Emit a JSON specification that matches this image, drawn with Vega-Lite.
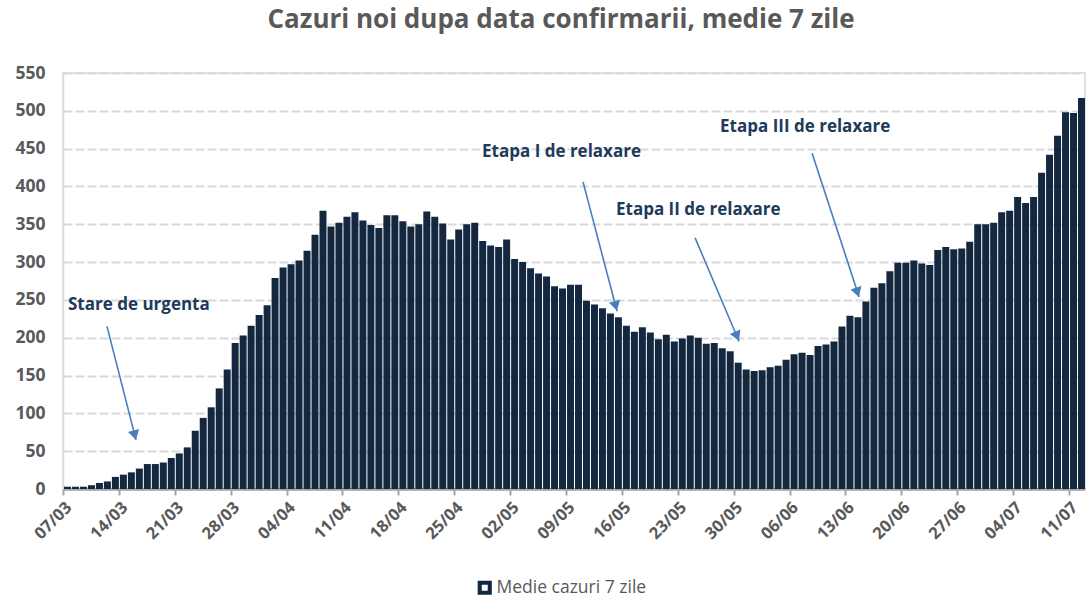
{
  "$schema": "https://vega.github.io/schema/vega-lite/v6.json",
  "width": 1022,
  "height": 416,
  "autosize": {"type": "none"},
  "padding": {"left": 63, "top": 73, "right": 4, "bottom": 110},
  "background": "white",
  "title": {"text": "Cazuri noi dupa data confirmarii, medie 7 zile", "font": "Open Sans", "fontSize": 26, "fontWeight": "bold", "color": "#595959", "anchor": "middle", "offset": 31, "dx": -13},
  "datasets": {
    "bars": [
      {"date": "2020-03-07", "value": 3}, {"date": "2020-03-08", "value": 3}, {"date": "2020-03-09", "value": 3}, {"date": "2020-03-10", "value": 5}, {"date": "2020-03-11", "value": 8},
      {"date": "2020-03-12", "value": 10}, {"date": "2020-03-13", "value": 16}, {"date": "2020-03-14", "value": 19}, {"date": "2020-03-15", "value": 22}, {"date": "2020-03-16", "value": 27},
      {"date": "2020-03-17", "value": 33}, {"date": "2020-03-18", "value": 33}, {"date": "2020-03-19", "value": 35}, {"date": "2020-03-20", "value": 41}, {"date": "2020-03-21", "value": 47},
      {"date": "2020-03-22", "value": 55}, {"date": "2020-03-23", "value": 77}, {"date": "2020-03-24", "value": 94}, {"date": "2020-03-25", "value": 108}, {"date": "2020-03-26", "value": 133},
      {"date": "2020-03-27", "value": 158}, {"date": "2020-03-28", "value": 193}, {"date": "2020-03-29", "value": 203}, {"date": "2020-03-30", "value": 216}, {"date": "2020-03-31", "value": 230},
      {"date": "2020-04-01", "value": 243}, {"date": "2020-04-02", "value": 279}, {"date": "2020-04-03", "value": 293}, {"date": "2020-04-04", "value": 297}, {"date": "2020-04-05", "value": 302},
      {"date": "2020-04-06", "value": 315}, {"date": "2020-04-07", "value": 336}, {"date": "2020-04-08", "value": 368}, {"date": "2020-04-09", "value": 347}, {"date": "2020-04-10", "value": 352},
      {"date": "2020-04-11", "value": 360}, {"date": "2020-04-12", "value": 366}, {"date": "2020-04-13", "value": 355}, {"date": "2020-04-14", "value": 349}, {"date": "2020-04-15", "value": 345},
      {"date": "2020-04-16", "value": 362}, {"date": "2020-04-17", "value": 362}, {"date": "2020-04-18", "value": 354}, {"date": "2020-04-19", "value": 347}, {"date": "2020-04-20", "value": 350},
      {"date": "2020-04-21", "value": 367}, {"date": "2020-04-22", "value": 360}, {"date": "2020-04-23", "value": 351}, {"date": "2020-04-24", "value": 330}, {"date": "2020-04-25", "value": 343},
      {"date": "2020-04-26", "value": 350}, {"date": "2020-04-27", "value": 352}, {"date": "2020-04-28", "value": 328}, {"date": "2020-04-29", "value": 322}, {"date": "2020-04-30", "value": 320},
      {"date": "2020-05-01", "value": 330}, {"date": "2020-05-02", "value": 304}, {"date": "2020-05-03", "value": 300}, {"date": "2020-05-04", "value": 292}, {"date": "2020-05-05", "value": 285},
      {"date": "2020-05-06", "value": 281}, {"date": "2020-05-07", "value": 268}, {"date": "2020-05-08", "value": 265}, {"date": "2020-05-09", "value": 270}, {"date": "2020-05-10", "value": 270},
      {"date": "2020-05-11", "value": 249}, {"date": "2020-05-12", "value": 244}, {"date": "2020-05-13", "value": 239}, {"date": "2020-05-14", "value": 232}, {"date": "2020-05-15", "value": 227},
      {"date": "2020-05-16", "value": 216}, {"date": "2020-05-17", "value": 208}, {"date": "2020-05-18", "value": 214}, {"date": "2020-05-19", "value": 207}, {"date": "2020-05-20", "value": 198},
      {"date": "2020-05-21", "value": 204}, {"date": "2020-05-22", "value": 195}, {"date": "2020-05-23", "value": 199}, {"date": "2020-05-24", "value": 203}, {"date": "2020-05-25", "value": 200},
      {"date": "2020-05-26", "value": 192}, {"date": "2020-05-27", "value": 193}, {"date": "2020-05-28", "value": 186}, {"date": "2020-05-29", "value": 182}, {"date": "2020-05-30", "value": 167},
      {"date": "2020-05-31", "value": 158},
      {"date": "2020-06-01", "value": 156}, {"date": "2020-06-02", "value": 157}, {"date": "2020-06-03", "value": 161}, {"date": "2020-06-04", "value": 163}, {"date": "2020-06-05", "value": 171},
      {"date": "2020-06-06", "value": 178}, {"date": "2020-06-07", "value": 180}, {"date": "2020-06-08", "value": 177}, {"date": "2020-06-09", "value": 189}, {"date": "2020-06-10", "value": 191},
      {"date": "2020-06-11", "value": 195}, {"date": "2020-06-12", "value": 215}, {"date": "2020-06-13", "value": 229}, {"date": "2020-06-14", "value": 227}, {"date": "2020-06-15", "value": 248},
      {"date": "2020-06-16", "value": 266}, {"date": "2020-06-17", "value": 272}, {"date": "2020-06-18", "value": 288}, {"date": "2020-06-19", "value": 299}, {"date": "2020-06-20", "value": 299},
      {"date": "2020-06-21", "value": 302}, {"date": "2020-06-22", "value": 298}, {"date": "2020-06-23", "value": 296}, {"date": "2020-06-24", "value": 316}, {"date": "2020-06-25", "value": 320},
      {"date": "2020-06-26", "value": 317}, {"date": "2020-06-27", "value": 318}, {"date": "2020-06-28", "value": 327}, {"date": "2020-06-29", "value": 350}, {"date": "2020-06-30", "value": 350},
      {"date": "2020-07-01", "value": 352}, {"date": "2020-07-02", "value": 366}, {"date": "2020-07-03", "value": 368}, {"date": "2020-07-04", "value": 386}, {"date": "2020-07-05", "value": 378},
      {"date": "2020-07-06", "value": 386}, {"date": "2020-07-07", "value": 418}, {"date": "2020-07-08", "value": 442}, {"date": "2020-07-09", "value": 467}, {"date": "2020-07-10", "value": 498},
      {"date": "2020-07-11", "value": 497}, {"date": "2020-07-12", "value": 517}
    ],
    "notes": [
      {"label": "Stare de urgenta", "date": "2020-03-07T15:00:00Z", "value": 243},
      {"label": "Etapa I de relaxare", "date": "2020-04-28T11:31:00Z", "value": 445},
      {"label": "Etapa II de relaxare", "date": "2020-05-15T06:14:00Z", "value": 369},
      {"label": "Etapa III de relaxare", "date": "2020-05-28T06:58:00Z", "value": 479}
    ],
    "arrows": [
      {"id": 1, "x1": "2020-03-12T12:14:00Z", "y1": 215, "x2": "2020-03-16T03:22:00Z", "y2": 65},
      {"id": 2, "x1": "2020-05-11T03:07:00Z", "y1": 406, "x2": "2020-05-15T09:22:00Z", "y2": 235},
      {"id": 3, "x1": "2020-05-25T04:05:00Z", "y1": 332, "x2": "2020-05-30T16:19:00Z", "y2": 195},
      {"id": 4, "x1": "2020-06-08T19:41:00Z", "y1": 444, "x2": "2020-06-14T17:02:00Z", "y2": 254}
    ],
    "heads": [
      {"id": 1, "date": "2020-03-15T23:46:00Z", "value": 71},
      {"id": 2, "date": "2020-05-15T05:31:00Z", "value": 242},
      {"id": 3, "date": "2020-05-30T10:05:00Z", "value": 202},
      {"id": 4, "date": "2020-06-14T12:00:00Z", "value": 260}
    ]
  },
  "layer": [
    {
      "data": {"name": "bars"},
      "mark": {"type": "bar", "timeUnitBandSize": 0.86},
      "encoding": {
        "x": {
          "field": "date", "type": "temporal", "timeUnit": "utcyearmonthdate",
          "scale": {"type": "utc", "nice": false, "domain": [{"year": 2020, "month": 3, "date": 7, "utc": true}, {"year": 2020, "month": 7, "date": 13, "utc": true}]},
          "axis": {
            "title": null, "grid": false, "labelAngle": -45, "labelOverlap": false,
            "values": [
              {"year": 2020, "month": 3, "date": 7, "utc": true}, {"year": 2020, "month": 3, "date": 14, "utc": true}, {"year": 2020, "month": 3, "date": 21, "utc": true}, {"year": 2020, "month": 3, "date": 28, "utc": true},
              {"year": 2020, "month": 4, "date": 4, "utc": true}, {"year": 2020, "month": 4, "date": 11, "utc": true}, {"year": 2020, "month": 4, "date": 18, "utc": true}, {"year": 2020, "month": 4, "date": 25, "utc": true},
              {"year": 2020, "month": 5, "date": 2, "utc": true}, {"year": 2020, "month": 5, "date": 9, "utc": true}, {"year": 2020, "month": 5, "date": 16, "utc": true}, {"year": 2020, "month": 5, "date": 23, "utc": true},
              {"year": 2020, "month": 5, "date": 30, "utc": true}, {"year": 2020, "month": 6, "date": 6, "utc": true}, {"year": 2020, "month": 6, "date": 13, "utc": true}, {"year": 2020, "month": 6, "date": 20, "utc": true},
              {"year": 2020, "month": 6, "date": 27, "utc": true}, {"year": 2020, "month": 7, "date": 4, "utc": true}, {"year": 2020, "month": 7, "date": 11, "utc": true}
            ],
            "labelExpr": "utcFormat(datum.value, '%d/%m')",
            "domainColor": "#a6a6a6", "domainWidth": 2.5, "tickColor": "#a6a6a6", "tickWidth": 2, "tickSize": 6,
            "labelFont": "Open Sans", "labelFontSize": 16.5, "labelFontWeight": "bold", "labelColor": "#595959", "labelPadding": 4
          }
        },
        "y": {
          "field": "value", "type": "quantitative",
          "scale": {"domain": [0, 550], "nice": false},
          "axis": {
            "title": null, "values": [0, 50, 100, 150, 200, 250, 300, 350, 400, 450, 500, 550], "labelOverlap": false,
            "grid": true, "gridDash": [9, 3], "gridColor": "#d9d9d9", "gridWidth": 2,
            "domain": true, "domainColor": "#d9d9d9", "domainWidth": 1.5, "ticks": false,
            "labelFont": "Open Sans", "labelFontSize": 17.5, "labelFontWeight": "bold", "labelColor": "#595959", "labelPadding": 18
          }
        },
        "color": {
          "datum": "Medie cazuri 7 zile",
          "scale": {"range": ["#13273f"]},
          "legend": {
            "title": null, "orient": "none", "legendX": 413, "legendY": 506,
            "symbolType": "M-1,-1H1V1H-1Z M-0.42,-0.42V0.42H0.42V-0.42Z", "symbolSize": 200, "symbolStrokeWidth": 0,
            "labelFont": "Open Sans", "labelFontSize": 17.5, "labelColor": "#595959", "labelOffset": 3
          }
        }
      }
    },
    {
      "data": {"name": "arrows"},
      "mark": {"type": "rule", "color": "#4a7ebb", "strokeWidth": 1.6},
      "encoding": {
        "x": {"field": "x1", "type": "temporal"},
        "x2": {"field": "x2"},
        "y": {"field": "y1", "type": "quantitative", "axis": {"title": null, "values": [0, 50, 100, 150, 200, 250, 300, 350, 400, 450, 500, 550], "labelOverlap": false}},
        "y2": {"field": "y2"}
      }
    },
    {
      "data": {"name": "heads"},
      "transform": [{"filter": "datum.id == 1"}],
      "mark": {"type": "point", "shape": "triangle-up", "filled": true, "color": "#4a7ebb", "opacity": 1, "size": 130, "angle": 165.7},
      "encoding": {"x": {"field": "date", "type": "temporal"}, "y": {"field": "value", "type": "quantitative", "axis": {"title": null, "values": [0, 50, 100, 150, 200, 250, 300, 350, 400, 450, 500, 550], "labelOverlap": false}}}
    },
    {
      "data": {"name": "heads"},
      "transform": [{"filter": "datum.id == 2"}],
      "mark": {"type": "point", "shape": "triangle-up", "filled": true, "color": "#4a7ebb", "opacity": 1, "size": 130, "angle": 165.2},
      "encoding": {"x": {"field": "date", "type": "temporal"}, "y": {"field": "value", "type": "quantitative", "axis": {"title": null, "values": [0, 50, 100, 150, 200, 250, 300, 350, 400, 450, 500, 550], "labelOverlap": false}}}
    },
    {
      "data": {"name": "heads"},
      "transform": [{"filter": "datum.id == 3"}],
      "mark": {"type": "point", "shape": "triangle-up", "filled": true, "color": "#4a7ebb", "opacity": 1, "size": 130, "angle": 156.9},
      "encoding": {"x": {"field": "date", "type": "temporal"}, "y": {"field": "value", "type": "quantitative", "axis": {"title": null, "values": [0, 50, 100, 150, 200, 250, 300, 350, 400, 450, 500, 550], "labelOverlap": false}}}
    },
    {
      "data": {"name": "heads"},
      "transform": [{"filter": "datum.id == 4"}],
      "mark": {"type": "point", "shape": "triangle-up", "filled": true, "color": "#4a7ebb", "opacity": 1, "size": 130, "angle": 162},
      "encoding": {"x": {"field": "date", "type": "temporal"}, "y": {"field": "value", "type": "quantitative", "axis": {"title": null, "values": [0, 50, 100, 150, 200, 250, 300, 350, 400, 450, 500, 550], "labelOverlap": false}}}
    },
    {
      "data": {"name": "notes"},
      "mark": {"type": "text", "align": "left", "baseline": "middle", "font": "Open Sans", "fontSize": 17, "fontWeight": "bold", "color": "#203a5c"},
      "encoding": {
        "x": {"field": "date", "type": "temporal"},
        "y": {"field": "value", "type": "quantitative", "axis": {"title": null, "values": [0, 50, 100, 150, 200, 250, 300, 350, 400, 450, 500, 550], "labelOverlap": false}},
        "text": {"field": "label"}
      }
    }
  ],
  "config": {
    "view": {"stroke": "#d9d9d9", "strokeWidth": 1.5}
  }
}
